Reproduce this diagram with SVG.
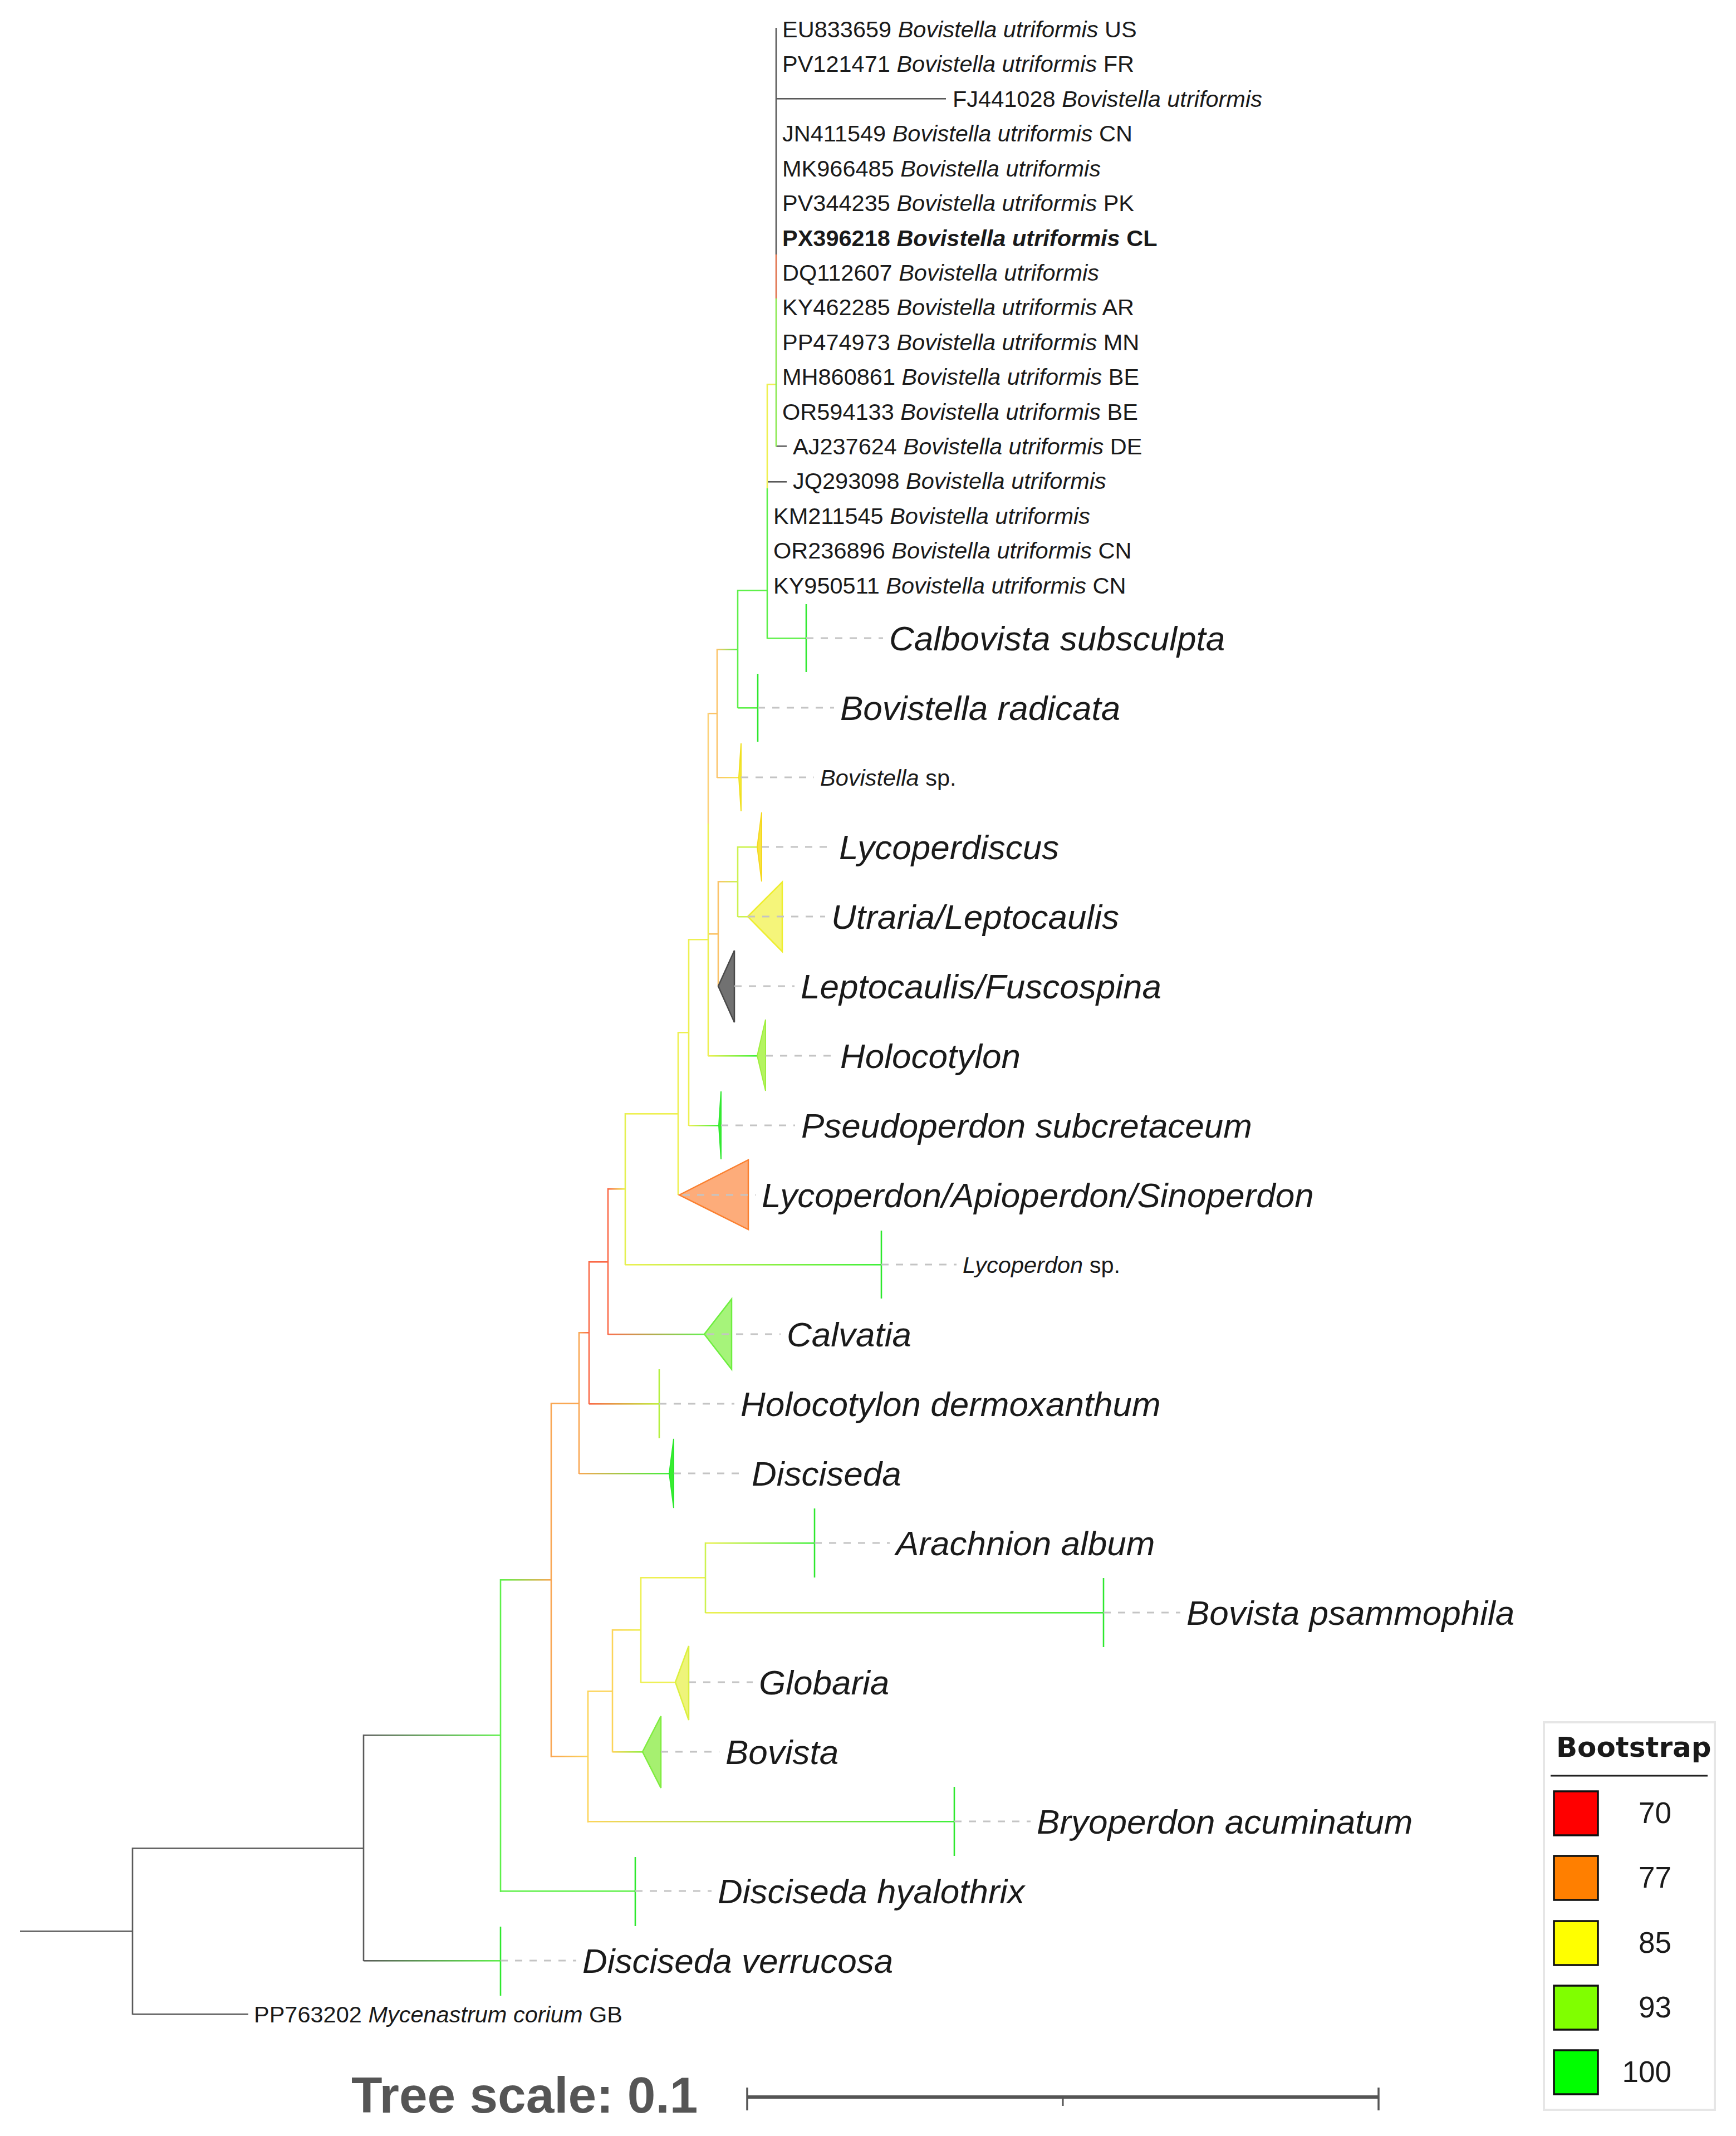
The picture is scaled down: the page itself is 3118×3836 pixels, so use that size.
<svg xmlns="http://www.w3.org/2000/svg" width="3118" height="3836" viewBox="0 0 3118 3836">
<style>
text{font-family:"Liberation Sans",Arial,sans-serif;fill:#1a1a1a}
.lf{font-size:41.5px}
.cl{font-size:62px;font-style:italic}
.sp{font-size:41.5px}
.i{font-style:italic}
.b{font-weight:bold}
.v{stroke-width:2.6;fill:none}
.gray{stroke:#5a5a5a}
.green{stroke:#5ef04a}
.red{stroke:#fa6a48}
.org{stroke:#f9a652}
.lorg{stroke:#fbc46a}
.yorg{stroke:#fcd45a}
.yel{stroke:#eef052}
.yg{stroke:#cdf250}
.tick{stroke:#2ee82e;stroke-width:2.6}
.dash{stroke:#c4c4c4;stroke-width:3;stroke-dasharray:13 13;fill:none}
.leg{font-size:53px}
</style>
<defs>
<linearGradient id="gGrG"><stop offset="0" stop-color="#5a5a5a"/><stop offset="1" stop-color="#5ef04a"/></linearGradient>
<linearGradient id="gGO"><stop offset="0" stop-color="#5ef04a"/><stop offset="1" stop-color="#f9a652"/></linearGradient>
<linearGradient id="gOYo"><stop offset="0" stop-color="#f9a652"/><stop offset="1" stop-color="#fcd45a"/></linearGradient>
<linearGradient id="gOR"><stop offset="0" stop-color="#f9a652"/><stop offset="1" stop-color="#fa6a48"/></linearGradient>
<linearGradient id="gOG"><stop offset="0" stop-color="#f9a652"/><stop offset="1" stop-color="#3ef03a"/></linearGradient>
<linearGradient id="gRYg"><stop offset="0" stop-color="#fa6a48"/><stop offset="1" stop-color="#c0f040"/></linearGradient>
<linearGradient id="gRY"><stop offset="0" stop-color="#fa6a48"/><stop offset="1" stop-color="#eef052"/></linearGradient>
<linearGradient id="gRG"><stop offset="0" stop-color="#fa6a48"/><stop offset="1" stop-color="#5ef04a"/></linearGradient>
<linearGradient id="gYG"><stop offset="0" stop-color="#eef052"/><stop offset="1" stop-color="#3ef03a"/></linearGradient>
<linearGradient id="gLoYg"><stop offset="0" stop-color="#fbc46a"/><stop offset="1" stop-color="#cdf250"/></linearGradient>
<linearGradient id="gLoG"><stop offset="0" stop-color="#fbc46a"/><stop offset="1" stop-color="#5ef04a"/></linearGradient>
<linearGradient id="gLoY"><stop offset="0" stop-color="#fbc46a"/><stop offset="1" stop-color="#f5e84a"/></linearGradient>
<linearGradient id="gYoG"><stop offset="0" stop-color="#fcd45a"/><stop offset="1" stop-color="#3ef03a"/></linearGradient>
<linearGradient id="gYoY"><stop offset="0" stop-color="#fcd45a"/><stop offset="1" stop-color="#eef052"/></linearGradient>
<linearGradient id="gYoBv"><stop offset="0" stop-color="#fcd45a"/><stop offset="1" stop-color="#90ee40"/></linearGradient>
</defs>
<rect width="3118" height="3836" fill="#ffffff"/>

<g id="connectors">
<!-- horizontal branches -->
<rect x="36" y="3467" width="202" height="2.6" fill="#5a5a5a"/>
<rect x="238" y="3318" width="415" height="2.6" fill="#5a5a5a"/>
<rect x="238" y="3616" width="208" height="2.6" fill="#5a5a5a"/>
<rect x="653" y="3115" width="246" height="2.6" fill="url(#gGrG)"/>
<rect x="653" y="3520" width="246" height="2.6" fill="url(#gGrG)"/>
<rect x="899" y="2836" width="91" height="2.6" fill="url(#gGO)"/>
<rect x="899" y="3395" width="242" height="2.6" fill="#5ef04a"/>
<rect x="990" y="2519" width="50" height="2.6" fill="#f9a652"/>
<rect x="990" y="3153" width="66" height="2.6" fill="url(#gOYo)"/>
<rect x="1040" y="2392" width="18" height="2.6" fill="url(#gOR)"/>
<rect x="1040" y="2645" width="162" height="2.6" fill="url(#gOG)"/>
<rect x="1058" y="2265" width="34" height="2.6" fill="#fa6a48"/>
<rect x="1058" y="2520" width="126" height="2.6" fill="url(#gRYg)"/>
<rect x="1092" y="2134" width="31" height="2.6" fill="url(#gRY)"/>
<rect x="1092" y="2395" width="173" height="2.6" fill="url(#gRG)"/>
<rect x="1123" y="1999" width="95" height="2.6" fill="#eef052"/>
<rect x="1123" y="2270" width="460" height="2.6" fill="url(#gYG)"/>
<rect x="1218" y="1853" width="19" height="2.6" fill="#eef052"/>
<rect x="1237" y="1686" width="35" height="2.6" fill="#eef052"/>
<rect x="1237" y="2020" width="54" height="2.6" fill="url(#gYG)"/>
<rect x="1272" y="1280" width="16" height="2.6" fill="#fbc46a"/>
<rect x="1272" y="1676" width="18" height="2.6" fill="#fbc46a"/>
<rect x="1272" y="1895" width="88" height="2.6" fill="url(#gYG)"/>
<rect x="1290" y="1582" width="35" height="2.6" fill="url(#gLoYg)"/>
<rect x="1325" y="1520" width="35" height="2.6" fill="#cdf250"/>
<rect x="1325" y="1645" width="18" height="2.6" fill="#cdf250"/>
<rect x="1288" y="1165" width="37" height="2.6" fill="url(#gLoG)"/>
<rect x="1288" y="1395" width="39" height="2.6" fill="url(#gLoY)"/>
<rect x="1325" y="1059" width="53" height="2.6" fill="#5ef04a"/>
<rect x="1325" y="1270" width="36" height="2.6" fill="#5ef04a"/>
<rect x="1378" y="689" width="16" height="2.6" fill="#eef052"/>
<rect x="1378" y="864" width="35" height="2.6" fill="#5a5a5a"/>
<rect x="1378" y="1145" width="70" height="2.6" fill="#5ef04a"/>
<rect x="1394" y="176" width="305" height="2.6" fill="#5a5a5a"/>
<rect x="1394" y="800" width="19" height="2.6" fill="#5a5a5a"/>
<rect x="1056" y="3036" width="44" height="2.6" fill="#fcd45a"/>
<rect x="1056" y="3270" width="658" height="2.6" fill="url(#gYoG)"/>
<rect x="1100" y="2926" width="51" height="2.6" fill="url(#gYoY)"/>
<rect x="1100" y="3145" width="54" height="2.6" fill="url(#gYoBv)"/>
<rect x="1151" y="2832" width="116" height="2.6" fill="#eef052"/>
<rect x="1151" y="3020" width="62" height="2.6" fill="#eef052"/>
<rect x="1267" y="2770" width="196" height="2.6" fill="url(#gYG)"/>
<rect x="1267" y="2895" width="715" height="2.6" fill="url(#gYG)"/>
<!-- vertical lines -->
<line class="v gray" x1="238" y1="3318" x2="238" y2="3618"/>
<line class="v gray" x1="653" y1="3115" x2="653" y2="3522"/>
<line class="v green" x1="899" y1="2836" x2="899" y2="3398"/>
<line class="v org" x1="990" y1="2519" x2="990" y2="3156"/>
<line class="v org" x1="1040" y1="2392" x2="1040" y2="2647"/>
<line class="v red" x1="1058" y1="2265" x2="1058" y2="2522"/>
<line class="v red" x1="1092" y1="2134" x2="1092" y2="2397"/>
<line class="v" stroke="#e4f052" x1="1123" y1="1999" x2="1123" y2="2272"/>
<line class="v yel" x1="1218" y1="1853" x2="1218" y2="2146"/>
<line class="v yel" x1="1237" y1="1686" x2="1237" y2="2022"/>
<line class="v" stroke="#fcd27a" x1="1272" y1="1280" x2="1272" y2="1479"/>
<line class="v yel" x1="1272" y1="1479" x2="1272" y2="1897"/>
<line class="v lorg" x1="1290" y1="1582" x2="1290" y2="1771"/>
<line class="v yg" x1="1325" y1="1520" x2="1325" y2="1647"/>
<line class="v lorg" x1="1288" y1="1165" x2="1288" y2="1397"/>
<line class="v green" x1="1325" y1="1059" x2="1325" y2="1272"/>
<line class="v yel" x1="1378" y1="689" x2="1378" y2="877"/>
<line class="v green" x1="1378" y1="877" x2="1378" y2="1147"/>
<line class="v gray" x1="1394" y1="50" x2="1394" y2="457"/>
<line class="v" stroke="#e0704a" x1="1394" y1="457" x2="1394" y2="536"/>
<line class="v" stroke="#8ae850" x1="1394" y1="536" x2="1394" y2="802"/>
<line class="v yorg" x1="1056" y1="3036" x2="1056" y2="3273"/>
<line class="v yorg" x1="1100" y1="2926" x2="1100" y2="3147"/>
<line class="v yel" x1="1151" y1="2832" x2="1151" y2="3022"/>
<line class="v yg" x1="1267" y1="2770" x2="1267" y2="2897"/>
</g>

<g id="leaves-utriformis" class="lf">
<text id="EU833659" x="1405" y="67">EU833659 <tspan class="i">Bovistella utriformis</tspan> US</text>
<text id="PV121471" x="1405" y="129">PV121471 <tspan class="i">Bovistella utriformis</tspan> FR</text>
<text id="FJ441028" x="1711" y="192">FJ441028 <tspan class="i">Bovistella utriformis</tspan></text>
<text id="JN411549" x="1405" y="254">JN411549 <tspan class="i">Bovistella utriformis</tspan> CN</text>
<text id="MK966485" x="1405" y="317">MK966485 <tspan class="i">Bovistella utriformis</tspan></text>
<text id="PV344235" x="1405" y="379">PV344235 <tspan class="i">Bovistella utriformis</tspan> PK</text>
<text id="PX396218" class="b" x="1405" y="442">PX396218 <tspan class="i">Bovistella utriformis</tspan> CL</text>
<text id="DQ112607" x="1405" y="504">DQ112607 <tspan class="i">Bovistella utriformis</tspan></text>
<text id="KY462285" x="1405" y="566">KY462285 <tspan class="i">Bovistella utriformis</tspan> AR</text>
<text id="PP474973" x="1405" y="629">PP474973 <tspan class="i">Bovistella utriformis</tspan> MN</text>
<text id="MH860861" x="1405" y="691">MH860861 <tspan class="i">Bovistella utriformis</tspan> BE</text>
<text id="OR594133" x="1405" y="754">OR594133 <tspan class="i">Bovistella utriformis</tspan> BE</text>
<text id="AJ237624" x="1424" y="816">AJ237624 <tspan class="i">Bovistella utriformis</tspan> DE</text>
<text id="JQ293098" x="1424" y="878">JQ293098 <tspan class="i">Bovistella utriformis</tspan></text>
<text id="KM211545" x="1389" y="941">KM211545 <tspan class="i">Bovistella utriformis</tspan></text>
<text id="OR236896" x="1389" y="1003">OR236896 <tspan class="i">Bovistella utriformis</tspan> CN</text>
<text id="KY950511" x="1389" y="1066">KY950511 <tspan class="i">Bovistella utriformis</tspan> CN</text>
</g>

<g id="calbovista">
<line class="tick" x1="1448" y1="1085" x2="1448" y2="1207"/>
<line class="dash" x1="1448" y1="1146" x2="1586" y2="1146"/>
<text class="cl" x="1597" y="1168">Calbovista subsculpta</text>
</g>
<g id="bovistella-radicata">
<line class="tick" x1="1361" y1="1210" x2="1361" y2="1332"/>
<line class="dash" x1="1361" y1="1271" x2="1498" y2="1271"/>
<text class="cl" x="1509" y="1293">Bovistella radicata</text>
</g>
<g id="bovistella-sp">
<polygon points="1327,1396 1331,1335 1331,1457" fill="#f5ee40" stroke="#f0e020" stroke-width="2"/>
<line class="dash" x1="1331" y1="1396" x2="1462" y2="1396"/>
<text class="sp" x="1473" y="1411"><tspan class="i">Bovistella</tspan> sp.</text>
</g>
<g id="lycoperdiscus">
<polygon points="1360,1521 1368,1459 1368,1583" fill="#f8e440" stroke="#f5d820" stroke-width="2"/>
<line class="dash" x1="1368" y1="1521" x2="1496" y2="1521"/>
<text class="cl" x="1507" y="1543">Lycoperdiscus</text>
</g>
<g id="utraria-leptocaulis">
<polygon points="1343,1646 1405,1584 1405,1709" fill="#f5f57a" stroke="#eeee30" stroke-width="2.5"/>
<line class="dash" x1="1343" y1="1646" x2="1482" y2="1646"/>
<text class="cl" x="1493" y="1668">Utraria/Leptocaulis</text>
</g>
<g id="leptocaulis-fuscospina">
<polygon points="1290,1771 1319,1707 1319,1836" fill="#717171" stroke="#4a4a4a" stroke-width="2.5"/>
<line class="dash" x1="1319" y1="1771" x2="1427" y2="1771"/>
<text class="cl" x="1438" y="1793">Leptocaulis/Fuscospina</text>
</g>
<g id="holocotylon">
<polygon points="1360,1896 1375,1831 1375,1959" fill="#b4f460" stroke="#a0ee40" stroke-width="2"/>
<line class="dash" x1="1375" y1="1896" x2="1498" y2="1896"/>
<text class="cl" x="1509" y="1918">Holocotylon</text>
</g>
<g id="pseudoperdon">
<polygon points="1291,2021 1295,1960 1295,2082" fill="#40ee30" stroke="#30e830" stroke-width="2"/>
<line class="dash" x1="1295" y1="2021" x2="1428" y2="2021"/>
<text class="cl" x="1439" y="2043">Pseudoperdon subcretaceum</text>
</g>
<g id="lycoperdon-apioperdon-sinoperdon">
<polygon points="1220,2146 1344,2083 1344,2208" fill="#fdac7a" stroke="#fb8030" stroke-width="2.5"/>
<line class="dash" x1="1226" y1="2146" x2="1357" y2="2146"/>
<text class="cl" x="1368" y="2168">Lycoperdon/Apioperdon/Sinoperdon</text>
</g>
<g id="lycoperdon-sp">
<line class="tick" x1="1583" y1="2210" x2="1583" y2="2332"/>
<line class="dash" x1="1583" y1="2271" x2="1718" y2="2271"/>
<text class="sp" x="1729" y="2286"><tspan class="i">Lycoperdon</tspan> sp.</text>
</g>
<g id="calvatia">
<polygon points="1265,2396 1314,2333 1314,2459" fill="#a6f47a" stroke="#6eee40" stroke-width="2.5"/>
<line class="dash" x1="1270" y1="2396" x2="1402" y2="2396"/>
<text class="cl" x="1413" y="2418">Calvatia</text>
</g>
<g id="holocotylon-dermoxanthum">
<line x1="1184" y1="2459" x2="1184" y2="2583" stroke="#b4f040" stroke-width="2.6"/>
<line class="dash" x1="1184" y1="2521" x2="1319" y2="2521"/>
<text class="cl" x="1330" y="2543">Holocotylon dermoxanthum</text>
</g>
<g id="disciseda">
<polygon points="1202,2646 1210,2584 1210,2708" fill="#38ee30" stroke="#2ee82e" stroke-width="2"/>
<line class="dash" x1="1210" y1="2646" x2="1339" y2="2646"/>
<text class="cl" x="1350" y="2668">Disciseda</text>
</g>
<g id="arachnion-album">
<line class="tick" x1="1463" y1="2709" x2="1463" y2="2833"/>
<line class="dash" x1="1463" y1="2771" x2="1598" y2="2771"/>
<text class="cl" x="1609" y="2793">Arachnion album</text>
</g>
<g id="bovista-psammophila">
<line class="tick" x1="1982" y1="2834" x2="1982" y2="2958"/>
<line class="dash" x1="1982" y1="2896" x2="2120" y2="2896"/>
<text class="cl" x="2131" y="2918">Bovista psammophila</text>
</g>
<g id="globaria">
<polygon points="1213,3021 1237,2956 1237,3089" fill="#eef47a" stroke="#dcf040" stroke-width="2.5"/>
<line class="dash" x1="1237" y1="3021" x2="1352" y2="3021"/>
<text class="cl" x="1363" y="3043">Globaria</text>
</g>
<g id="bovista">
<polygon points="1154,3146 1187,3082 1187,3211" fill="#a6f070" stroke="#80ec40" stroke-width="2.5"/>
<line class="dash" x1="1187" y1="3146" x2="1292" y2="3146"/>
<text class="cl" x="1303" y="3168">Bovista</text>
</g>
<g id="bryoperdon-acuminatum">
<line class="tick" x1="1714" y1="3209" x2="1714" y2="3333"/>
<line class="dash" x1="1714" y1="3271" x2="1851" y2="3271"/>
<text class="cl" x="1862" y="3293">Bryoperdon acuminatum</text>
</g>
<g id="disciseda-hyalothrix">
<line class="tick" x1="1141" y1="3335" x2="1141" y2="3459"/>
<line class="dash" x1="1141" y1="3396" x2="1278" y2="3396"/>
<text class="cl" x="1289" y="3418">Disciseda hyalothrix</text>
</g>
<g id="disciseda-verrucosa">
<line class="tick" x1="899" y1="3460" x2="899" y2="3584"/>
<line class="dash" x1="899" y1="3521" x2="1035" y2="3521"/>
<text class="cl" x="1046" y="3543">Disciseda verrucosa</text>
</g>
<g id="mycenastrum">
<text class="lf" x="456" y="3632">PP763202 <tspan class="i">Mycenastrum corium</tspan> GB</text>
</g>

<g id="tree-scale">
<text x="631" y="3794" font-size="91" font-weight="bold" style="fill:#555555">Tree scale: 0.1</text>
<line x1="1342" y1="3766" x2="2476" y2="3766" stroke="#555555" stroke-width="6"/>
<line x1="1342" y1="3749" x2="1342" y2="3790" stroke="#555555" stroke-width="3.5"/>
<line x1="2476" y1="3749" x2="2476" y2="3790" stroke="#555555" stroke-width="3.5"/>
<line x1="1909" y1="3766" x2="1909" y2="3782" stroke="#555555" stroke-width="3"/>
</g>

<g id="legend">
<rect x="2773" y="3093" width="307" height="696" fill="#ffffff" stroke="#e6e6e6" stroke-width="4"/>
<text x="2795" y="3155" font-size="50" font-weight="bold" style="font-family:'DejaVu Sans',Verdana,sans-serif">Bootstrap</text>
<line x1="2785" y1="3189" x2="3067" y2="3189" stroke="#222222" stroke-width="3"/>
<rect x="2791" y="3217" width="79" height="79" fill="#ff0000" stroke="#111111" stroke-width="3.5"/>
<rect x="2791" y="3333" width="79" height="79" fill="#ff7f00" stroke="#111111" stroke-width="3.5"/>
<rect x="2791" y="3450" width="79" height="79" fill="#ffff00" stroke="#111111" stroke-width="3.5"/>
<rect x="2791" y="3566" width="79" height="79" fill="#80ff00" stroke="#111111" stroke-width="3.5"/>
<rect x="2791" y="3682" width="79" height="79" fill="#00ff00" stroke="#111111" stroke-width="3.5"/>
<text class="leg" x="3002" y="3274" text-anchor="end">70</text>
<text class="leg" x="3002" y="3390" text-anchor="end">77</text>
<text class="leg" x="3002" y="3507" text-anchor="end">85</text>
<text class="leg" x="3002" y="3623" text-anchor="end">93</text>
<text class="leg" x="3002" y="3739" text-anchor="end">100</text>
</g>
</svg>
